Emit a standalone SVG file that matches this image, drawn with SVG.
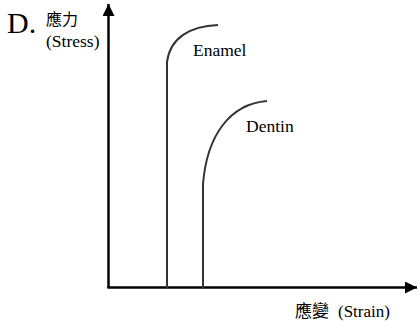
<svg xmlns="http://www.w3.org/2000/svg" width="420" height="324" viewBox="0 0 420 324">
<style>
.t{font-family:"Liberation Serif","Noto Sans CJK TC",serif;fill:#000}
.cjk{font-family:"Noto Sans CJK TC",sans-serif;fill:#000}
.ax{stroke:#000;stroke-width:2.5;fill:none}
.cv{stroke:#333;stroke-width:2;fill:none}
</style>
<defs>
<marker id="ah" markerWidth="12" markerHeight="12" refX="10" refY="5" orient="auto" markerUnits="userSpaceOnUse" viewBox="0 0 10 10">
<path d="M0,0 L10,5 L0,10 Z" fill="#000"/>
</marker>
</defs>
<g id="labels">
<text class="t" x="7" y="33" font-size="30">D.</text>
<text class="cjk" x="46" y="25" font-size="16">應力</text>
<text class="t" x="46" y="47" font-size="17.5">(Stress)</text>
<text class="cjk" x="295" y="317" font-size="17">應變</text>
<text class="t" x="338" y="317" font-size="17">(Strain)</text>
</g>
<g id="connectors">
<line class="ax" x1="108.5" y1="288" x2="108.5" y2="4" marker-end="url(#ah)"/>
<line class="ax" x1="107.5" y1="287.5" x2="417" y2="287.5" marker-end="url(#ah)"/>
</g>
<g id="enamel">
<path class="cv" d="M167,288 L167,62 C170,38 190,26 218,25"/>
<text class="t" x="193" y="56" font-size="17.5">Enamel</text>
</g>
<g id="dentin">
<path class="cv" d="M203,288 L203,184 C207,135 230,104 267,101"/>
<text class="t" x="246" y="132" font-size="17.5">Dentin</text>
</g>
</svg>
